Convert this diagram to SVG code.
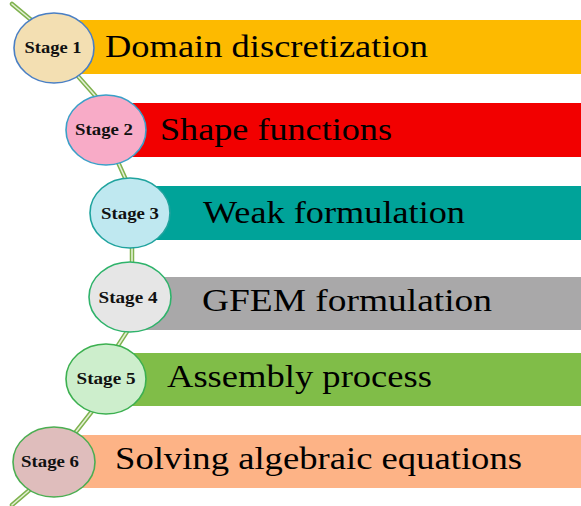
<svg xmlns="http://www.w3.org/2000/svg" width="581" height="506" viewBox="0 0 581 506">
  <style>
    .bar-text { font-family: "Liberation Serif", "Times New Roman", serif; font-size: 31px; fill: #000; }
    .stage-text { font-family: "Liberation Serif", "Times New Roman", serif; font-size: 17px; font-weight: bold; fill: #111; text-anchor: middle; }
    .stage { stroke-width: 1.6; }
    .rail-outer { fill: none; stroke: #7fb24e; stroke-width: 4.5; stroke-linejoin: round; stroke-linecap: round; }
    .rail-inner { fill: none; stroke: #e4f0d6; stroke-width: 1.6; stroke-linejoin: round; stroke-linecap: round; }
  </style>
  <rect width="581" height="506" fill="#ffffff"/>

  <!-- bars -->
  <g id="bars">
    <rect x="54" y="20" width="527" height="54" fill="#fdba00"/>
    <rect x="106" y="103" width="475" height="54" fill="#f20000"/>
    <rect x="130" y="186" width="451" height="54" fill="#00a399"/>
    <rect x="130" y="277" width="451" height="53" fill="#a9a8a9"/>
    <rect x="106" y="353" width="475" height="53" fill="#80bd48"/>
    <rect x="54" y="435" width="527" height="53" fill="#fdb386"/>
  </g>

  <!-- connecting rail -->
  <g id="connectors">
    <path class="rail-outer" d="M12,4 L36,24 L76,74 L99,100 L117,160 L126,180 L132,247 L132,263 L128,330 L117,347 L93,410 L75,433 L33,487 L12,505"/>
    <path class="rail-inner" d="M12,4 L36,24 L76,74 L99,100 L117,160 L126,180 L132,247 L132,263 L128,330 L117,347 L93,410 L75,433 L33,487 L12,505"/>
  </g>

  <g id="stage1">
    <ellipse class="stage" cx="54" cy="48" rx="40" ry="35" fill="#f3dfb2" stroke="#4a7fc4"/>
    <text class="stage-text" x="53" y="53" textLength="57" lengthAdjust="spacingAndGlyphs">Stage 1</text>
    <text class="bar-text" x="105" y="57" textLength="323" lengthAdjust="spacingAndGlyphs">Domain discretization</text>
  </g>
  <g id="stage2">
    <ellipse class="stage" cx="106" cy="130" rx="40" ry="35" fill="#f8abc7" stroke="#3aa0c8"/>
    <text class="stage-text" x="104" y="135" textLength="58" lengthAdjust="spacingAndGlyphs">Stage 2</text>
    <text class="bar-text" x="160" y="140" textLength="232" lengthAdjust="spacingAndGlyphs">Shape functions</text>
  </g>
  <g id="stage3">
    <ellipse class="stage" cx="130" cy="213" rx="40" ry="35" fill="#bfe8f0" stroke="#1fa39e"/>
    <text class="stage-text" x="130" y="219" textLength="58" lengthAdjust="spacingAndGlyphs">Stage 3</text>
    <text class="bar-text" x="203" y="223" textLength="262" lengthAdjust="spacingAndGlyphs">Weak formulation</text>
  </g>
  <g id="stage4">
    <ellipse class="stage" cx="130" cy="297" rx="41" ry="35" fill="#e6e6e6" stroke="#2fb36b"/>
    <text class="stage-text" x="128" y="303" textLength="59" lengthAdjust="spacingAndGlyphs">Stage 4</text>
    <text class="bar-text" x="202" y="311" textLength="290" lengthAdjust="spacingAndGlyphs">GFEM formulation</text>
  </g>
  <g id="stage5">
    <ellipse class="stage" cx="106" cy="379" rx="40" ry="35" fill="#cdeecc" stroke="#3cb050"/>
    <text class="stage-text" x="106" y="384" textLength="59" lengthAdjust="spacingAndGlyphs">Stage 5</text>
    <text class="bar-text" x="167" y="387" textLength="265" lengthAdjust="spacingAndGlyphs">Assembly process</text>
  </g>
  <g id="stage6">
    <ellipse class="stage" cx="54" cy="462" rx="41" ry="35" fill="#dfbdbc" stroke="#4cae52"/>
    <text class="stage-text" x="50" y="467" textLength="58" lengthAdjust="spacingAndGlyphs">Stage 6</text>
    <text class="bar-text" x="115" y="469" textLength="407" lengthAdjust="spacingAndGlyphs">Solving algebraic equations</text>
  </g>
</svg>
